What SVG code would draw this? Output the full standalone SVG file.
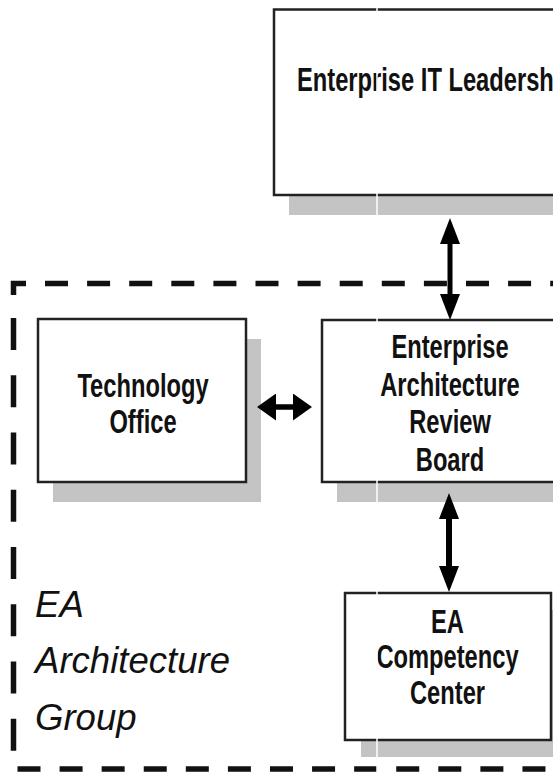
<svg xmlns="http://www.w3.org/2000/svg" width="553" height="776" viewBox="0 0 553 776">
<style>
.box{fill:#fff;stroke:#222;stroke-width:2.5}
.shadow{fill:#c4c4c4;stroke:none}
.t{font-family:"Liberation Sans",Arial,sans-serif;font-weight:bold;font-size:32.7px;fill:#111;text-anchor:middle}
.ts{font-family:"Liberation Sans",Arial,sans-serif;font-weight:bold;font-size:32.7px;fill:#111}
.gl{font-family:"Liberation Sans",Arial,sans-serif;font-style:italic;font-size:37.7px;fill:#111}
.dash{fill:none;stroke:#111;stroke-width:5.5}
.shaft{stroke:#000;fill:none}
</style>
<defs>
<marker id="hv" markerUnits="userSpaceOnUse" viewBox="0 -10 26 20" refX="6" refY="0" markerWidth="26" markerHeight="20" orient="auto-start-reverse">
<path d="M0,-10 L26,0 L0,10 z" fill="#000"/>
</marker>
<marker id="hh" markerUnits="userSpaceOnUse" viewBox="0 -13.5 19 27" refX="5" refY="0" markerWidth="19" markerHeight="27" orient="auto-start-reverse">
<path d="M0,-13.5 L19,0 L0,13.5 z" fill="#000"/>
</marker>
</defs>
<rect width="553" height="776" fill="#fff"/>

<g id="ea-group">
<path class="dash" d="M13.5,295 V283.5 H26"/>
<line class="dash" x1="45" y1="283.5" x2="560" y2="283.5" stroke-dasharray="23 19.1"/>
<line class="dash" x1="13.5" y1="318" x2="13.5" y2="751" stroke-dasharray="32 25.25"/>
<line class="dash" x1="17.5" y1="769" x2="560" y2="769" stroke-dasharray="23 19.08"/>
<text class="gl" transform="translate(35,617) scale(0.97,1)">EA</text>
<text class="gl" transform="translate(35,673) scale(0.97,1)">Architecture</text>
<text class="gl" transform="translate(35,730) scale(0.97,1)">Group</text>
</g>

<g id="it-leadership">
<rect class="shadow" x="289" y="29" width="300" height="186"/>
<rect class="box" x="274" y="9.5" width="300" height="185.5"/>
<text class="ts" transform="translate(297,91) scale(0.725,1)">Enterprise IT Leadership</text>
</g>

<g id="technology-office">
<rect class="shadow" x="53" y="339" width="208" height="163"/>
<rect class="box" x="38" y="319" width="208" height="163"/>
<text class="t" transform="translate(143,397) scale(0.725,1)">Technology</text>
<text class="t" transform="translate(143,433) scale(0.725,1)">Office</text>
</g>

<g id="review-board">
<rect class="shadow" x="337" y="340" width="300" height="162"/>
<rect class="box" x="322" y="320" width="300" height="162"/>
<text class="t" transform="translate(450,358) scale(0.725,1)">Enterprise</text>
<text class="t" transform="translate(450,396) scale(0.725,1)">Architecture</text>
<text class="t" transform="translate(450,433) scale(0.725,1)">Review</text>
<text class="t" transform="translate(450,471) scale(0.725,1)">Board</text>
</g>

<g id="competency-center">
<rect class="shadow" x="361" y="610" width="206" height="147"/>
<rect class="box" x="345" y="593" width="206" height="147"/>
<text class="t" transform="translate(447.5,633) scale(0.725,1)">EA</text>
<text class="t" transform="translate(447.5,668) scale(0.725,1)">Competency</text>
<text class="t" transform="translate(447.5,704) scale(0.725,1)">Center</text>
</g>

<g id="connectors">
<line class="shaft" stroke-width="5" x1="450" y1="238" x2="450" y2="300" marker-start="url(#hv)" marker-end="url(#hv)"/>
<line class="shaft" stroke-width="5.5" x1="271" y1="407" x2="298" y2="407" marker-start="url(#hh)" marker-end="url(#hh)"/>
<line class="shaft" stroke-width="6" x1="449" y1="513" x2="449" y2="572" marker-start="url(#hv)" marker-end="url(#hv)"/>
</g>

<line x1="377" y1="0" x2="377" y2="776" stroke="#fff" stroke-width="1.5"/>
</svg>
